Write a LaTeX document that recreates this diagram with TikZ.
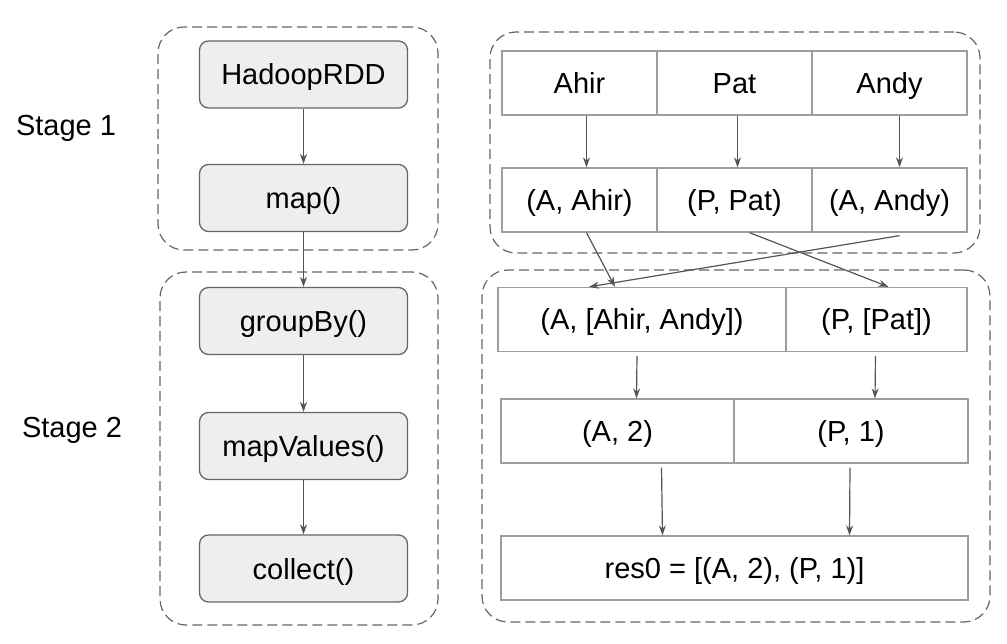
\documentclass[tikz,border=0pt]{standalone}
\usepackage{fontspec}
\setmainfont{Liberation Sans}
\usetikzlibrary{arrows.meta}

\definecolor{boxline}{HTML}{666666}
\definecolor{boxfill}{HTML}{EEEEEE}
\definecolor{cellline}{HTML}{9E9E9E}
\definecolor{arrline}{HTML}{555555}

\tikzset{
  txt/.style={font=\fontsize{29}{35}\selectfont},
  op/.style={txt, draw=boxline, fill=boxfill, line width=1.3pt, rounded corners=9pt,
    minimum width=208, minimum height=67, text height=24pt, text depth=3pt},
  cell/.style={txt, draw=cellline, line width=1.3pt, minimum height=64, inner sep=0pt,
    text height=24pt, text depth=3pt},
  stagebox/.style={draw=boxline, line width=1.2pt, dash pattern=on 10pt off 5pt,
    rounded corners=26pt, inner sep=0pt},
  arr/.style={draw=arrline, line width=1.2pt, -{Stealth[length=10pt,width=7pt]}}
}

\begin{document}
\begin{tikzpicture}[x=1pt,y=-1pt]
  \useasboundingbox (0,0) rectangle (1007,644);

  % dashed stage boxes
  \node[stagebox, minimum width=280, minimum height=223] (sonel) at (298,138.5) {};
  \node[stagebox, minimum width=278, minimum height=353] (stwol) at (299,448.5) {};
  \node[stagebox, minimum width=490, minimum height=221] (soner) at (735,142.5) {};
  \node[stagebox, minimum width=508, minimum height=352] (stwor) at (736,446) {};

  % stage labels
  \node[txt] (stage1) at (66,128) {Stage 1};
  \node[txt] (stage2) at (72,430) {Stage 2};

  % operations
  \node[op] (hadoop) at (303.5,74.5) {HadoopRDD};
  \node[op] (map) at (303.5,198) {map()};
  \node[op] (group) at (303.5,321) {groupBy()};
  \node[op] (mapval) at (303.5,446) {mapValues()};
  \node[op] (collect) at (303.5,568.5) {collect()};

  \draw[arr] (hadoop) -- (map);
  \draw[arr] (map) -- (group);
  \draw[arr] (group) -- (mapval);
  \draw[arr] (mapval) -- (collect);

  % data rows
  \node[cell, minimum width=155] (ahir) at (579.5,83) {Ahir};
  \node[cell, minimum width=155] (pat) at (734.5,83) {Pat};
  \node[cell, minimum width=155] (andy) at (889.5,83) {Andy};

  \node[cell, minimum width=155] (aahir) at (579.5,200) {(A, Ahir)};
  \node[cell, minimum width=155] (ppat) at (734.5,200) {(P, Pat)};
  \node[cell, minimum width=155] (aandy) at (889.5,200) {(A, Andy)};

  \node[cell, minimum width=288] (alist) at (642,319.5) {(A, [Ahir, Andy])};
  \node[cell, minimum width=181] (plist) at (876.5,319.5) {(P, [Pat])};

  \node[cell, minimum width=233] (acount) at (617.5,431) {(A, 2)};
  \node[cell, minimum width=234] (pcount) at (851,431) {(P, 1)};

  \node[cell, minimum width=467] (res) at (734.5,568) {res0 = [(A, 2), (P, 1)]};

  \draw[arr] ([xshift=7pt]ahir.south) -- ([xshift=7pt]aahir.north);
  \draw[arr] ([xshift=3pt]pat.south) -- ([xshift=3pt]ppat.north);
  \draw[arr] ([xshift=10pt]andy.south) -- ([xshift=10pt]aandy.north);

  \draw[arr] ([xshift=7pt]aahir.south) -- ([xshift=-27pt]alist.north);
  \draw[arr] ([xshift=15pt]ppat.south) -- ([xshift=12pt]plist.north);
  \draw[arr] ([xshift=10pt,yshift=-3pt]aandy.south) -- ([xshift=-53pt]alist.north);

  \draw[arr] ([xshift=-5pt,yshift=-4pt]alist.south) -- ([xshift=19pt]acount.north);
  \draw[arr] ([xshift=-1pt,yshift=-4pt]plist.south) -- ([xshift=24pt]pcount.north);

  \draw[arr] ([xshift=44pt,yshift=-4pt]acount.south) -- ([xshift=-72pt]res.north);
  \draw[arr] ([xshift=-1pt,yshift=-4pt]pcount.south) -- ([xshift=115pt]res.north);
\end{tikzpicture}
\end{document}
